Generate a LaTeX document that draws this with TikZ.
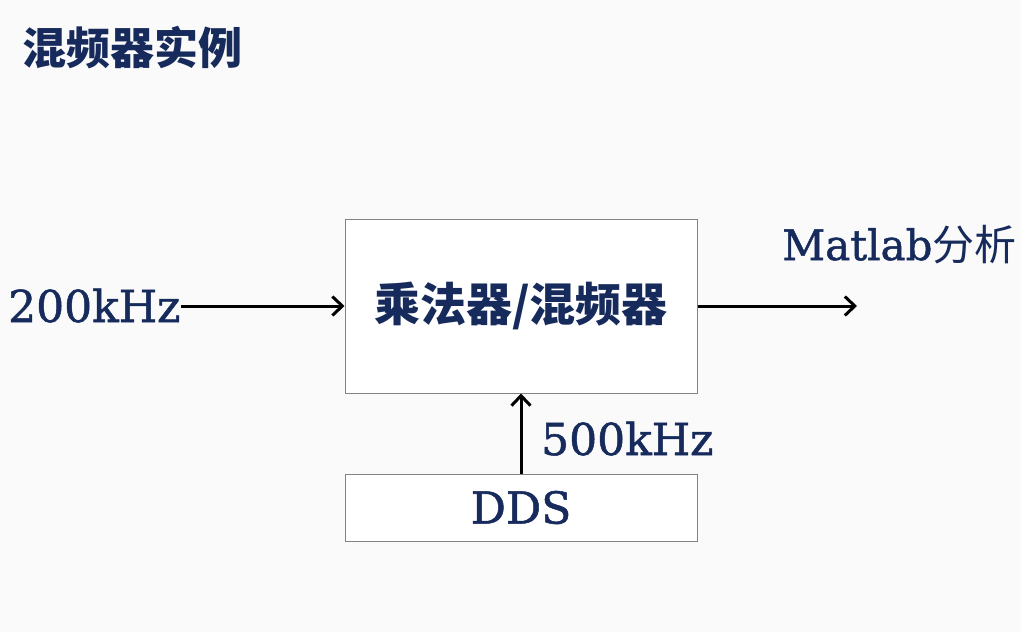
\documentclass[tikz,border=0pt]{standalone}
\usepackage{fontspec}
\setmainfont[FakeBold=1.2]{DejaVu Serif}
\newfontfamily\cjk{Noto Sans CJK SC}
\usetikzlibrary{arrows.meta,positioning}
\definecolor{navy}{RGB}{22,42,92}
\definecolor{boxgray}{RGB}{130,130,130}
\definecolor{paper}{RGB}{250,250,250}
\tikzset{
  blockbox/.style={draw=boxgray, line width=1pt, fill=white, inner sep=0pt},
  label/.style={inner sep=0pt, text=navy, font=\fontsize{44}{52}\selectfont},
  sig/.style={line width=3pt, -{Straight Barb[length=10pt,width=19pt,line width=3pt]}},
}
\begin{document}
\begin{tikzpicture}[x=1pt, y=-1pt]
  \fill[paper] (0,0) rectangle (1021,632);
  \useasboundingbox (0,0) rectangle (1021,632);
  \node[label, anchor=base west, font=\fontsize{44}{52}\selectfont\cjk\bfseries] (title) at (22,64) {混频器实例};
  \node[blockbox, minimum width=352pt, minimum height=174pt] (mixer) at (521,306) {};
  \node[label, font=\fontsize{46}{54}\selectfont\cjk\bfseries] (mixtext) at (mixer) {乘法器/混频器};
  \node[blockbox, minimum width=352pt, minimum height=67pt] (dds) at (521,507.5) {};
  \node[label] (ddstext) at (dds) {DDS};
  \node[label, anchor=base west] (in200) at (8,322) {200kHz};
  \node[label, anchor=base west] (lo500) at (541,455) {500kHz};
  \node[label, anchor=base west, font=\fontsize{42}{50}\selectfont] (matlab) at (782,260) {Matlab{\cjk 分析}};
  \coordinate (out) at (857,306);
  \draw[sig] (in200.east |- mixer.west) -- (mixer.west);
  \draw[sig] (mixer.east) -- (out);
  \draw[sig] (dds.north) -- (mixer.south);
\end{tikzpicture}
\end{document}
